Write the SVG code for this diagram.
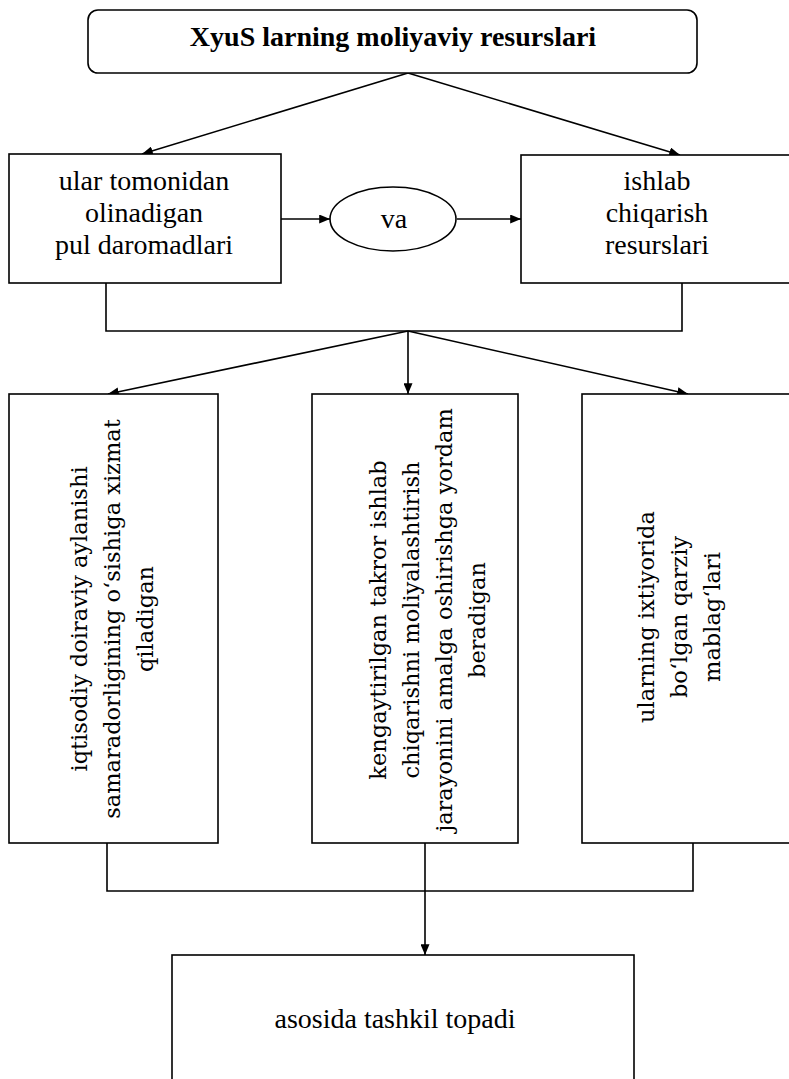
<svg xmlns="http://www.w3.org/2000/svg" width="789" height="1079" viewBox="0 0 789 1079">
<defs>
<marker id="ah" viewBox="0 0 12 10" refX="12" refY="5" markerWidth="11" markerHeight="9" markerUnits="userSpaceOnUse" orient="auto"><path d="M0,0 L12,5 L0,10 z" fill="#000"/></marker>
<style>
.box{fill:#fff;stroke:#000;stroke-width:1.6}
.t{font-family:"Liberation Serif","Times New Roman",serif;font-size:28px;fill:#000;text-anchor:middle}
.tb{font-family:"Liberation Serif","Times New Roman",serif;font-size:28px;font-weight:bold;fill:#000;text-anchor:middle}
.v{font-family:"DejaVu Serif",serif;font-size:22.5px;fill:#000;text-anchor:middle}
.c{fill:none;stroke:#000;stroke-width:1.6}
</style>
</defs>
<rect width="789" height="1079" fill="#fff"/>
<g id="connectors">
<line class="c" x1="408" y1="73" x2="142" y2="154" marker-end="url(#ah)"/>
<line class="c" x1="408" y1="73" x2="680" y2="155" marker-end="url(#ah)"/>
<line class="c" x1="281" y1="219" x2="330" y2="219" marker-end="url(#ah)"/>
<line class="c" x1="457" y1="219" x2="521" y2="219" marker-end="url(#ah)"/>
<polyline class="c" points="106,283 106,331 682,331 682,283"/>
<line class="c" x1="408" y1="331" x2="108" y2="394" marker-end="url(#ah)"/>
<line class="c" x1="408" y1="331" x2="408" y2="394" marker-end="url(#ah)"/>
<line class="c" x1="408" y1="331" x2="688" y2="394" marker-end="url(#ah)"/>
<polyline class="c" points="107,843 107,891 693,891 693,843"/>
<line class="c" x1="425" y1="843" x2="425" y2="955" marker-end="url(#ah)"/>
</g>
<g id="top">
<rect class="box" x="88" y="10" width="609" height="63" rx="10"/>
<text class="tb" x="393" y="46">XyuS larning moliyaviy resurslari</text>
</g>
<g id="left">
<rect class="box" x="9" y="154" width="272" height="129"/>
<text class="t" x="144" y="190">ular tomonidan</text>
<text class="t" x="144" y="222">olinadigan</text>
<text class="t" x="144" y="254">pul daromadlari</text>
</g>
<g id="va">
<ellipse class="box" cx="393" cy="219" rx="63" ry="32"/>
<text class="t" x="394" y="228">va</text>
</g>
<g id="right">
<rect class="box" x="521" y="155" width="290" height="128"/>
<text class="t" x="657" y="190">ishlab</text>
<text class="t" x="657" y="222">chiqarish</text>
<text class="t" x="657" y="254">resurslari</text>
</g>
<g id="b1">
<rect class="box" x="9" y="394" width="209" height="449"/>
<g transform="translate(113,619) rotate(-90)">
<text class="v" x="0" y="-26">iqtisodiy doiraviy aylanishi</text>
<text class="v" x="0" y="7">samaradorligining o‘sishiga xizmat</text>
<text class="v" x="0" y="40">qiladigan</text>
</g>
</g>
<g id="b2">
<rect class="box" x="312" y="394" width="206" height="449"/>
<g transform="translate(428,620) rotate(-90)">
<text class="v" x="0" y="-42">kengaytirilgan takror ishlab</text>
<text class="v" x="0" y="-9">chiqarishni moliyalashtirish</text>
<text class="v" x="0" y="24">jarayonini amalga oshirishga yordam</text>
<text class="v" x="0" y="57">beradigan</text>
</g>
</g>
<g id="b3">
<rect class="box" x="582" y="394" width="220" height="449"/>
<g transform="translate(680,617) rotate(-90)">
<text class="v" x="0" y="-26">ularning ixtiyorida</text>
<text class="v" x="0" y="7">bo‘lgan qarziy</text>
<text class="v" x="0" y="40">mablag‘lari</text>
</g>
</g>
<g id="bottom">
<rect class="box" x="172" y="955" width="462" height="140"/>
<text class="t" x="395" y="1028">asosida tashkil topadi</text>
</g>
</svg>
